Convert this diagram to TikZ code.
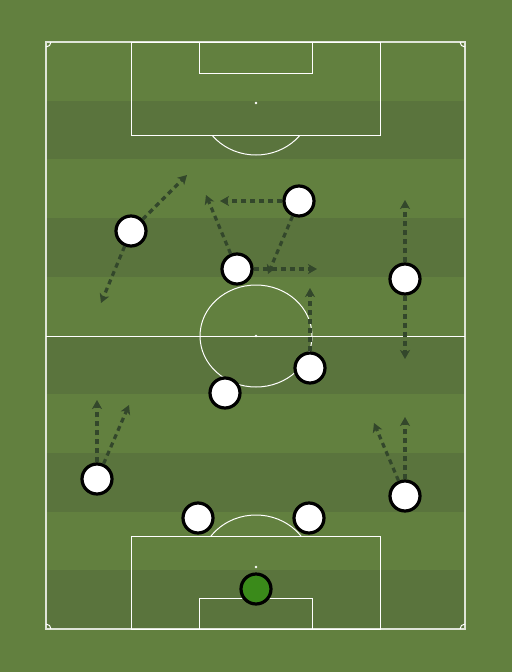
\documentclass[tikz,border=0pt]{standalone}
\usetikzlibrary{arrows.meta}
\definecolor{grassA}{HTML}{62803F}
\definecolor{grassB}{HTML}{5A743D}
\definecolor{runc}{HTML}{33472B}
\definecolor{gkc}{HTML}{3A8A1A}
\begin{document}
\begin{tikzpicture}[x=1pt,y=-1pt,
  pline/.style={white,line width=1pt},
  player/.style={circle,draw=black,fill=white,line width=3.2pt,minimum size=30pt,inner sep=0pt},
  gk/.style={player,fill=gkc},
  run/.style={runc,line width=3.2pt,dash pattern=on 5pt off 4pt,-{Stealth[length=9pt,width=10pt,inset=2.5pt]}}]
\useasboundingbox (0,0) rectangle (512,672);
\fill[grassA] (0,0) rectangle (512,672);
\foreach \i in {1,3,5,7,9}{
  \fill[grassB] (46,42+\i*58.7) rectangle (465,42+\i*58.7+58.7);
}
% pitch outline
\draw[white,opacity=0.8,line width=1.3pt] (46,42) rectangle (465,629);
\draw[pline] (46,336) -- (465,336);
\draw[pline] (256,336) ellipse [x radius=56, y radius=51];
\fill[white] (256,336) circle (1.4);
% top
\draw[pline] (131,42) rectangle (380,135);
\draw[pline] (199,42) rectangle (312,73);
\fill[white] (256,103) circle (1.4);
\begin{scope}
\clip (0,135) rectangle (512,200);
\draw[pline] (256,103) ellipse [x radius=56, y radius=52];
\end{scope}
% bottom
\draw[pline] (131,536) rectangle (380,629);
\draw[pline] (199,598) rectangle (312,629);
\fill[white] (256,567) circle (1.4);
\begin{scope}
\clip (0,470) rectangle (512,536);
\draw[pline] (256,567) ellipse [x radius=56, y radius=52];
\end{scope}
% corners
\draw[pline] (46,47) arc[start angle=90,end angle=0,radius=5];
\draw[pline] (460,42) arc[start angle=180,end angle=90,radius=5];
\draw[pline] (51,629) arc[start angle=0,end angle=-90,radius=5];
\draw[pline] (465,624) arc[start angle=-90,end angle=-180,radius=5];
% players
\node[player] (p1) at (131,231) {};
\node[player] (p2) at (299,201) {};
\node[player] (p3) at (237,269) {};
\node[player] (p4) at (405,279) {};
\node[player] (p5) at (310,368) {};
\node[player] (p6) at (225,393) {};
\node[player] (p7) at (97,479) {};
\node[player] (p8) at (405,496) {};
\node[player] (p9) at (198,518) {};
\node[player] (p10) at (309,518) {};
\node[gk] (gk) at (256,589) {};
% run targets
\coordinate (t1a) at (187,175);
\coordinate (t1b) at (101,303);
\coordinate (t2a) at (220,201);
\coordinate (t2b) at (268,274);
\coordinate (t3a) at (206,195);
\coordinate (t3b) at (317,269);
\coordinate (t4a) at (405,200);
\coordinate (t4b) at (405,359);
\coordinate (t5a) at (310,288);
\coordinate (t7a) at (97,400);
\coordinate (t7b) at (129,405);
\coordinate (t8a) at (405,417);
\coordinate (t8b) at (374,423);
% runs
\draw[run] (p1) -- (t1a);
\draw[run] (p1) -- (t1b);
\draw[run] (p2) -- (t2a);
\draw[run] (p2) -- (t2b);
\draw[run] (p3) -- (t3a);
\draw[run] (p3) -- (t3b);
\draw[run] (p4) -- (t4a);
\draw[run] (p4) -- (t4b);
\draw[run] (p5) -- (t5a);
\draw[run] (p7) -- (t7a);
\draw[run] (p7) -- (t7b);
\draw[run] (p8) -- (t8a);
\draw[run] (p8) -- (t8b);
\end{tikzpicture}
\end{document}
